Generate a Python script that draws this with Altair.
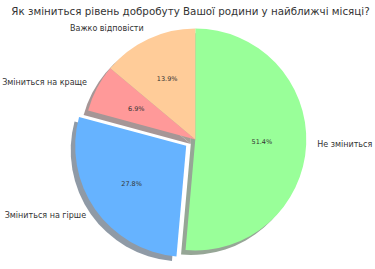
import altair as alt
import numpy as np
import pandas as pd

# ---- data ----
categories = ["Не зміниться", "Зміниться на гірше", "Зміниться на краще", "Важко відповісти"]
shares = [51.4, 27.8, 6.9, 13.9]
explode = [0.0, 0.1, 0.0, 0.0]
pct_labels = ["51.4%", "27.8%", "6.9%", "13.9%"]
title_text = "Як зміниться рівень добробуту Вашої родини у найближчі місяці?"

# ---- styles ----
colors = ["#99ff99", "#66b3ff", "#ff9999", "#ffcc99"]


def shadow_of(hex_color):
    r, g, b = (int(hex_color[i:i + 2], 16) for i in (1, 3, 5))
    mix = [round(0.5 * 0.3 * c + 0.5 * 255) for c in (r, g, b)]
    return "#%02x%02x%02x" % tuple(mix)


shadow_colors = [shadow_of(c) for c in colors]

W, H = 375, 269
TOP = 22
CX, CY = 195.3, 139.5 - TOP
R = 111
SH = 4.5
FONT = "DejaVu Sans"
TXT = "#333333"

df = pd.DataFrame({"cat": categories, "share": shares, "explode": explode, "pct": pct_labels})
df["end"] = df["share"].cumsum()
df["start"] = df["end"] - df["share"]
df["mid"] = (df["start"] + df["end"]) / 2
ang = df["mid"] / df["share"].sum() * 2 * np.pi
df["cx"] = CX + df["explode"] * R * np.sin(ang)
df["cy"] = CY - df["explode"] * R * np.cos(ang)
df["sx"] = df["cx"] - SH
df["sy"] = df["cy"] + SH
df["side"] = np.where(np.sin(ang) < 0, "left", "right")

total = float(sum(shares))
theta_scale = alt.Scale(domain=[0, total], range=[0, 2 * np.pi])

base = alt.Chart(df)

shadow = base.mark_arc(radius=R).encode(
    x=alt.X("sx:Q", scale=None),
    y=alt.Y("sy:Q", scale=None),
    theta=alt.Theta("start:Q", scale=theta_scale, stack=None),
    theta2="end:Q",
    color=alt.Color("cat:N", scale=alt.Scale(domain=categories, range=shadow_colors), legend=None),
)

wedges = base.mark_arc(radius=R).encode(
    x=alt.X("cx:Q", scale=None),
    y=alt.Y("cy:Q", scale=None),
    theta=alt.Theta("start:Q", scale=theta_scale, stack=None),
    theta2="end:Q",
    color=alt.Color("cat:N", scale=alt.Scale(domain=categories, range=colors), legend=None),
)

names_left = base.transform_filter(alt.datum.side == "left").mark_text(
    align="right", baseline="middle", font=FONT, fontSize=8, color=TXT
).encode(
    x=alt.X("cx:Q", scale=None),
    y=alt.Y("cy:Q", scale=None),
    theta=alt.Theta("mid:Q", scale=theta_scale, stack=None),
    radius=alt.value(1.1 * R),
    text="cat:N",
)

names_right = base.transform_filter(alt.datum.side == "right").mark_text(
    align="left", baseline="middle", font=FONT, fontSize=8, color=TXT
).encode(
    x=alt.X("cx:Q", scale=None),
    y=alt.Y("cy:Q", scale=None),
    theta=alt.Theta("mid:Q", scale=theta_scale, stack=None),
    radius=alt.value(1.1 * R),
    text="cat:N",
)

pcts = base.mark_text(
    align="center", baseline="middle", font=FONT, fontSize=6.5, color=TXT
).encode(
    x=alt.X("cx:Q", scale=None),
    y=alt.Y("cy:Q", scale=None),
    theta=alt.Theta("mid:Q", scale=theta_scale, stack=None),
    radius=alt.value(0.6 * R),
    text="pct:N",
)

chart = (
    alt.layer(shadow, wedges, names_left, names_right, pcts)
    .resolve_scale(color="independent")
    .properties(
        width=W,
        height=H - TOP,
        autosize=alt.AutoSizeParams(type="none"),
        padding={"left": 0, "top": TOP, "right": 0, "bottom": 0},
        title=alt.Title(title_text, font=FONT, fontSize=10.3, fontWeight="normal",
                        color=TXT, anchor="middle", offset=5, dx=3),
    )
    .configure_view(stroke=None)
)

chart.save("out.html", embed_options={"renderer": "svg", "actions": False})
